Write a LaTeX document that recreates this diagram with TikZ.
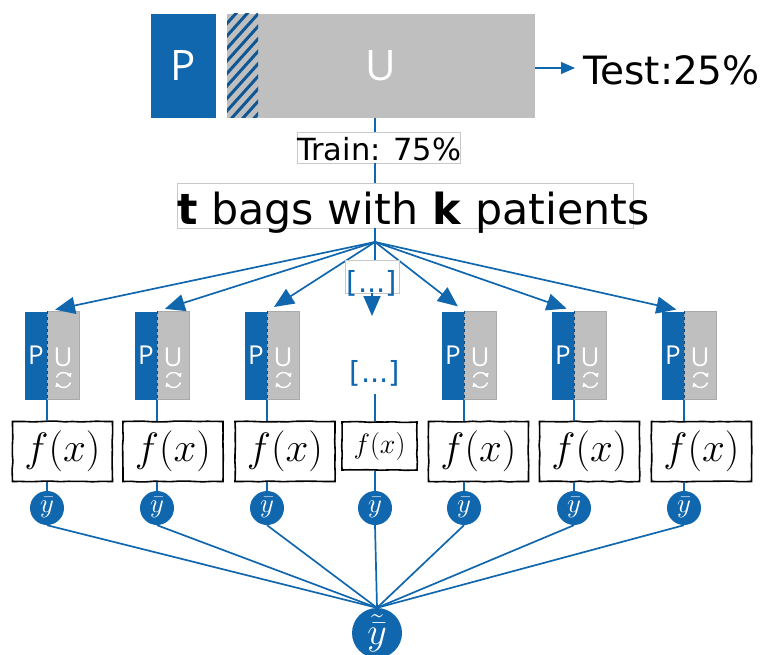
\RequirePackage{fix-cm}
\documentclass[tikz,border=0pt]{standalone}
\usepackage{fontspec}
\setmainfont{DejaVu Sans}
\newfontfamily\lightsans{Open Sans}
\usetikzlibrary{arrows.meta,calc,decorations.pathmorphing}

\definecolor{pblue}{RGB}{17,103,174}
\definecolor{ugray}{RGB}{191,191,191}
\definecolor{ugrayline}{RGB}{170,170,170}
\definecolor{framegray}{RGB}{200,200,200}

\newcommand{\fs}[1]{\fontsize{#1}{#1}\selectfont}

\begin{document}
\begin{tikzpicture}[x=1pt,y=-1pt,
  conn/.style={pblue, line width=1.7pt},
  bigtip/.style={-{Triangle[length=20pt,width=17pt]}},
  framebox/.style={draw=framegray, line width=0.8pt, fill=white, inner sep=0pt},
  pbar/.style={fill=pblue, minimum width=22pt, minimum height=88pt, inner sep=0pt,
    text=white, font=\lightsans\fs{26}},
  ubar/.style={fill=ugray, draw=ugrayline, line width=0.5pt, minimum width=32pt,
    minimum height=88pt, inner sep=0pt},
  ulet/.style={text=white, inner sep=0pt, font=\lightsans\fs{26}},
  split/.style={pblue!70!black, line width=0.9pt, dash pattern=on 3pt off 3pt},
  icon/.style={white, line width=1.4pt, -{Triangle[length=4pt,width=5pt]}},
  fbox/.style={draw=black, line width=1.6pt, fill=white, inner sep=0pt,
    minimum width=100pt, minimum height=60pt, font=\fs{41},
    decorate, decoration={random steps, segment length=8pt, amplitude=0.4pt}},
  ybar/.style={circle, fill=pblue, text=white, inner sep=0pt, minimum size=34pt,
    font=\fs{27}},
  dots/.style={text=pblue, inner sep=0pt, font=\fs{29}},
]
\pgfmathsetseed{7}
\useasboundingbox (0,0) rectangle (763,655);

% ---- full data set: P | hatched + U ----
\node[fill=pblue, minimum width=65pt, minimum height=104pt, inner sep=0pt,
  text=white, font=\lightsans\fs{42}] (pbig) at (183.5,66) {P};
\node[fill=ugray, minimum width=308pt, minimum height=104pt, inner sep=0pt,
  text=white, font=\lightsans\fs{42}] (ubig) at (381,66) {U};
\begin{scope}
  \clip (227,14) rectangle (258,118);
  \foreach \k in {0,...,11}
    \draw[pblue!85!black, line width=3pt] (217,22+\k*12.5) -- ++(45,-50);
\end{scope}

% ---- test split ----
\coordinate (testtip) at (575,68);
\draw[conn, line width=1.3pt, -{Triangle[length=14pt,width=12pt]}]
  (ubig.east |- testtip) -- (testtip);
\node[anchor=base west, inner sep=0pt, font=\fs{39}] (test) at (583,85) {Test:25\%};

% ---- train split ----
\coordinate (fan) at (375,242);
\node[framebox, minimum width=163pt, minimum height=31pt] (train) at (378.5,147.5) {};
\node[anchor=base west, inner sep=0pt, font=\fs{30.5}] (traintxt) at (297,161) {Train: 75\%};

\node[framebox, minimum width=456pt, minimum height=45pt] (bags) at (405,205.5) {};
\node[anchor=base west, inner sep=0pt, font=\fs{42.8}] (bagstxt) at (177,225)
  {\textbf{t} bags with \textbf{k} patients};

\draw[conn] (ubig.south -| fan) -- (train.north -| fan);
\draw[conn] (train.south -| fan) -- (bags.north -| fan);
\draw[conn] (bags.south -| fan) -- (fan);

% ---- final aggregate ----
\node[circle, fill=pblue, text=white, inner sep=0pt, minimum size=50pt,
  font=\fs{38}] (final) at (377,633) {$\tilde{\bar{y}}$};

% ---- bags ----
\foreach \b/\c/\i in {47/62.5/1, 157/173/2, 267/285/3, 464/478.5/5, 574/589.5/6, 684/701.5/7}{
  \node[pbar] (p\i) at (\b-11,355.5) {P};
  \node[ubar] (u\i) at (\b+16,355.5) {};
  \node[ulet] (ul\i) at (\b+16,357) {U};
  \draw[icon] (\b+16.5,380) ++(20:7.5) arc[start angle=20, end angle=160, radius=7.5];
  \draw[icon] (\b+16.5,380) ++(200:7.5) arc[start angle=200, end angle=340, radius=7.5];
  \draw[split] (p\i.north east) -- (p\i.south east);
  \node[fbox] (f\i) at (\c,451.5) {$f(x)$};
  \node[ybar] (y\i) at (\b,508) {$\bar{y}$};
  \draw[conn, bigtip, shorten >=8pt] (fan) -- (p\i.north east);
  \draw[conn] (p\i.south east) -- (f\i.north -| p\i.south east);
  \draw[conn] (f\i.south -| y\i.north) -- (y\i.north);
  \draw[conn] (y\i.south) -- (final.north);
}

% ---- elided bags ----
\node[framebox, minimum width=54pt, minimum height=33pt] (d1) at (372,276.5) {};
\node[dots] (d1txt) at (372,283) {[...]};
\coordinate (d1tip) at (372,316);
\draw[conn] (fan) -- (d1.north -| fan);
\draw[conn, bigtip] (d1.south) -- (d1tip);
\node[dots] (d2) at (375,373) {[...]};
\node[fbox, minimum width=75pt, minimum height=48pt, font=\fs{28}] (f4) at (379.5,446) {$f(x)$};
\node[ybar] (y4) at (375,508) {$\bar{y}$};
\draw[conn, shorten <=8pt] (d2.south) -- (f4.north -| d2.south);
\draw[conn] (f4.south -| y4.north) -- (y4.north);
\draw[conn] (y4.south) -- (final.north);
\end{tikzpicture}
\end{document}
